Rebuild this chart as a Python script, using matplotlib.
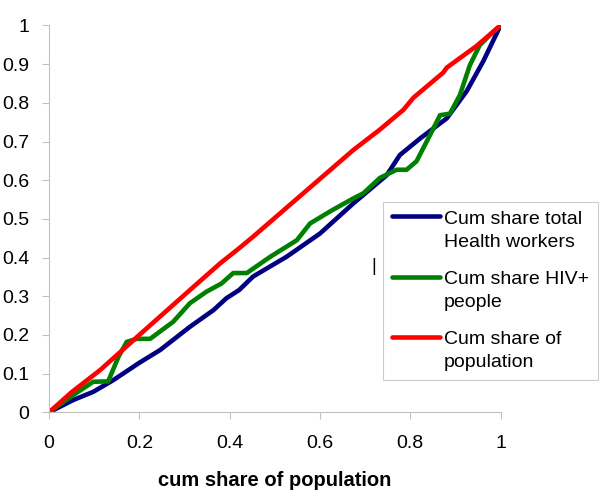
import numpy as np
import matplotlib
matplotlib.use("Agg")
import matplotlib.pyplot as plt
from matplotlib.legend_handler import HandlerLine2D

# cumulative shares
pop_x = [0, 0.05, 0.113, 0.2, 0.312, 0.379, 0.421, 0.452, 0.563, 0.674, 0.733, 0.785, 0.807,
         0.873, 0.881, 0.947, 1.0]
pop_y = [0, 0.052, 0.109, 0.2, 0.316, 0.385, 0.424, 0.454, 0.566, 0.678, 0.731, 0.782, 0.813,
         0.878, 0.891, 0.947, 1.0]

hw_x = [0, 0.054, 0.098, 0.142, 0.2, 0.246, 0.312, 0.364, 0.393, 0.421, 0.452, 0.526, 0.6,
        0.674, 0.748, 0.777, 0.822, 0.881, 0.925, 0.962, 1.0]
hw_y = [0, 0.032, 0.053, 0.083, 0.128, 0.161, 0.221, 0.264, 0.295, 0.316, 0.351, 0.402, 0.462,
        0.54, 0.613, 0.665, 0.708, 0.76, 0.83, 0.908, 1.0]

hiv_x = [0, 0.054, 0.098, 0.131, 0.154, 0.172, 0.194, 0.224, 0.275, 0.312, 0.349, 0.382, 0.408,
         0.438, 0.49, 0.549, 0.578, 0.622, 0.674, 0.696, 0.733, 0.77, 0.792, 0.814, 0.844,
         0.866, 0.888, 0.91, 0.932, 0.954, 0.984, 1.0]
hiv_y = [0, 0.045, 0.079, 0.08, 0.144, 0.182, 0.19, 0.19, 0.234, 0.282, 0.312, 0.333, 0.36,
         0.36, 0.402, 0.445, 0.488, 0.519, 0.553, 0.566, 0.606, 0.627, 0.627, 0.649, 0.717,
         0.768, 0.772, 0.82, 0.897, 0.949, 0.984, 1.0]

yticks = [0, 0.1, 0.2, 0.3, 0.4, 0.5, 0.6, 0.7, 0.8, 0.9, 1]
ytick_labels = ['0', '0.1', '0.2', '0.3', '0.4', '0.5', '0.6', '0.7', '0.8', '0.9', '1']
xticks = [0, 0.2, 0.4, 0.6, 0.8, 1]
xtick_labels = ['0', '0.2', '0.4', '0.6', '0.8', '1']

plt.rcParams['font.family'] = ['Liberation Sans', 'DejaVu Sans']

LEG_FS = 14
LEG_LS = 1.45


# legend line sits on the first text line, like Excel does
class FirstLineHandler(HandlerLine2D):
    def create_artists(self, legend, orig_handle, xdescent, ydescent, width, height,
                       fontsize, trans):
        arts = super().create_artists(legend, orig_handle, xdescent, ydescent, width, height,
                                      fontsize, trans)
        shift = 0.5 * LEG_LS * fontsize
        for a in arts:
            a.set_ydata(np.asarray(a.get_ydata()) + shift)
        return arts


fig = plt.figure(figsize=(6, 4.99), dpi=100)
ax = fig.add_axes([0.0817, 0.1737, 0.7525, 0.7753])

ax.plot(hw_x, hw_y, color='#000080', lw=3.3, label='Cum share total\nHealth workers', solid_capstyle='round')
ax.plot(hiv_x, hiv_y, color='#008000', lw=3.3, label='Cum share HIV+\npeople', solid_capstyle='round')
ax.plot(pop_x, pop_y, color='#ff0000', lw=3.3, label='Cum share of\npopulation', solid_capstyle='round')

ax.set_xlim(0, 1)
ax.set_ylim(0, 1)
ax.set_xticks(xticks)
ax.set_xticklabels(xtick_labels)
ax.set_yticks(yticks)
ax.set_yticklabels(ytick_labels)
for s in ['top', 'right']:
    ax.spines[s].set_visible(False)
for s in ['left', 'bottom']:
    ax.spines[s].set_color('#c0c0c0')
    ax.spines[s].set_linewidth(0.8)
ax.tick_params(direction='out', length=5, color='#c0c0c0', labelsize=14)
ax.tick_params(axis='x', pad=11)
ax.tick_params(axis='y', pad=9)

fig.text(275 / 600, (499 - 480) / 499, 'cum share of population', ha='center', va='center',
         fontsize=14.5, fontweight='bold')

handles, labels = ax.get_legend_handles_labels()
leg = fig.legend(handles, labels, loc='upper left', bbox_to_anchor=(0.638, 0.595),
                 fontsize=LEG_FS, frameon=True, fancybox=False, handlelength=2.5,
                 handletextpad=0.2, borderpad=0.45, labelspacing=1.05, borderaxespad=0,
                 handler_map={h: FirstLineHandler() for h in handles})
for t in leg.get_texts():
    t.set_linespacing(LEG_LS)
leg.get_frame().set_edgecolor('#c0c0c0')
leg.get_frame().set_linewidth(0.8)

fig.text(374 / 600, 0.465, '|', ha='center', va='center', fontsize=13)

fig.savefig('out.png', dpi=100)
